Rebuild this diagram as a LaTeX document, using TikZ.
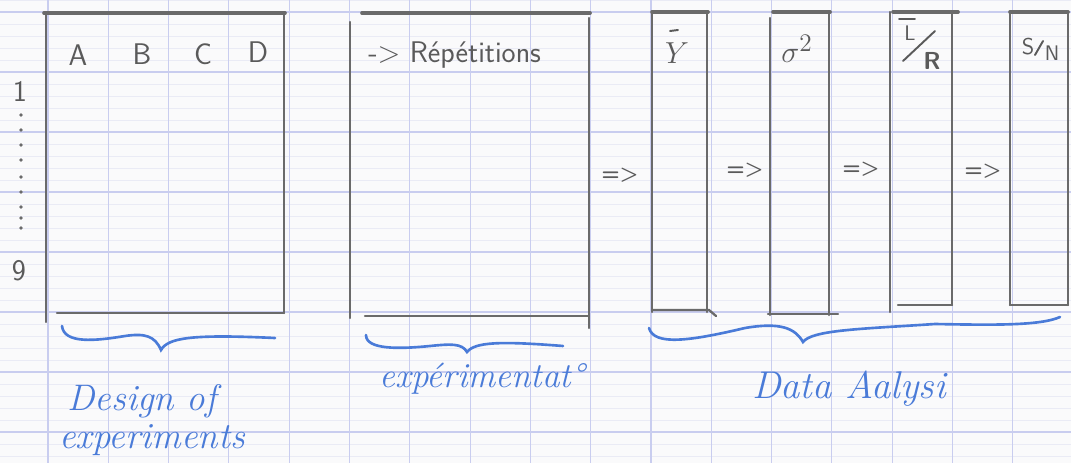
\documentclass[tikz,border=0pt]{standalone}
\definecolor{paper}{HTML}{FAFAFB}
\definecolor{gridmaj}{HTML}{C9CDEF}
\definecolor{gridmin}{HTML}{EAEBF5}
\definecolor{pencil}{HTML}{6A6A6A}
\definecolor{ink}{HTML}{4A7BD8}
\tikzset{
  edge/.style={draw=pencil, line width=1.3pt, line cap=round},
  topedge/.style={draw=pencil, line width=2.1pt, line cap=round},
  stroke/.style={draw=pencil!85!black, line width=1.1pt, line cap=round},
  brace/.style={draw=ink, line width=1.5pt, line cap=round},
  plabel/.style={text=pencil!85!black, font=\sffamily\fontsize{17}{17}\selectfont, inner sep=0pt},
  mlabel/.style={text=pencil!85!black, font=\fontsize{19}{19}\selectfont, inner sep=0pt},
  ilabel/.style={text=ink, font=\itshape\fontsize{21}{23}\selectfont, inner sep=0pt},
  implies/.style={text=pencil!85!black, font=\sffamily\bfseries\fontsize{12}{12}\selectfont, inner sep=0pt},
  dotmark/.style={fill=pencil, draw=none, circle, inner sep=0pt, minimum size=2.2pt}
}
\begin{document}
\begin{tikzpicture}[x=0.02cm,y=-0.02cm]
\fill[paper] (0,0) rectangle (1071,463);
\useasboundingbox (0,0) rectangle (1071,463);
% graph paper
\foreach \y in {0,12,...,456} \draw[gridmin, line width=0.4pt] (0,\y) -- (1071,\y);
\foreach \k in {-1,...,17} \draw[gridmaj, line width=0.6pt] ({48+60.3*\k},0) -- ++(0,463);
\foreach \y in {12,72,...,432} \draw[gridmaj, line width=0.6pt] (0,\y) -- (1071,\y);

% Box 1: design of experiments
\draw[edge] (46,14) -- (46,322);
\draw[topedge] (44,13) -- (285,13);
\draw[edge] (284,13) -- (284,313);
\draw[edge] (57,313) -- (284,313);
\node[plabel] (colA) at (78,55) {A};
\node[plabel] (colB) at (142,54) {B};
\node[plabel] (colC) at (203,54) {C};
\node[plabel] (colD) at (258,52) {D};
\node[plabel] (row1) at (20,91) {1};
\node[plabel] (row9) at (19,271) {9};
\foreach \yy [count=\i] in {115,130,145,160,177,192,207,218,228}
  \node[dotmark] (dot\i) at (21,\yy) {};

% Box 2: experimentation
\draw[edge] (350,22) -- (350,318);
\draw[topedge] (362,13) -- (590,13);
\draw[edge] (589,18) -- (589,328);
\draw[edge] (365,316) -- (588,316);
\node[plabel, anchor=west] (rep) at (368,55) {-{}> Répétitions};

% Data analysis boxes
\draw[edge] (652,12) -- (652,312);
\draw[topedge] (652,12) -- (708,12);
\draw[edge] (707,12) -- (707,312);
\draw[edge] (652,310) -- (709,310) -- (716,316);
\node[mlabel] (ybar) at (677,53) {$Y$};
\draw[stroke] (670,31) -- (678,30);

\draw[edge] (770,18) -- (770,315);
\draw[topedge] (773,12) -- (830,12);
\draw[edge] (829,12) -- (829,315);
\draw[edge] (768,314) -- (838,314);
\node[mlabel] (sig) at (797,49) {$\sigma^{2}$};

\draw[edge] (890,12) -- (890,312);
\draw[topedge] (893,12) -- (958,12);
\draw[edge] (952,12) -- (952,305);
\draw[edge] (898,305) -- (952,305);
\node[plabel, font=\sffamily\fontsize{12}{12}\selectfont] (lnum) at (910,33) {L};
\node[plabel, font=\sffamily\bfseries\fontsize{14}{14}\selectfont] (rden) at (932,61) {R};
\draw[stroke] (899,19) -- (915,19);
\draw[stroke] (903,61) -- (935,31);

\draw[edge] (1010,12) -- (1010,305);
\draw[topedge] (1010,12) -- (1068,12);
\draw[edge] (1068,12) -- (1068,305);
\draw[edge] (1010,305) -- (1068,305);
\node[plabel, font=\sffamily\fontsize{13}{13}\selectfont] (snum) at (1028,47) {S};
\node[plabel, font=\sffamily\fontsize{12}{12}\selectfont] (nden) at (1052,53) {N};
\draw[stroke] (1035,55) -- (1043,41);

% arrows between stages
\node[implies] (imp1) at (620,175) {=>};
\node[implies] (imp2) at (745,170) {=>};
\node[implies] (imp3) at (861,169) {=>};
\node[implies] (imp4) at (983,171) {=>};

% braces
\draw[brace] (62,326) .. controls (64,344) and (95,341) .. (125,336)
  .. controls (145,333) and (155,336) .. (161,350)
  .. controls (168,338) and (190,334) .. (275,338);
\draw[brace] (366,335) .. controls (366,350) and (400,349) .. (430,346)
  .. controls (450,344) and (462,343) .. (467,352)
  .. controls (475,342) and (500,341) .. (563,346);
\draw[brace] (649,328) .. controls (654,346) and (690,341) .. (745,328)
  .. controls (780,322) and (795,328) .. (803,342)
  .. controls (812,330) and (860,329) .. (935,324)
  .. controls (990,325) and (1040,326) .. (1060,317);

% captions
\node[ilabel] (doe1) at (142,401) {Design of};
\node[ilabel] (doe2) at (152,440) {experiments};
\node[ilabel, font=\itshape\fontsize{20}{22}\selectfont] (expe) at (482,379) {expérimentat°};
\node[ilabel, font=\itshape\fontsize{22}{24}\selectfont] (data) at (849,389) {Data Aalysi};
\end{tikzpicture}
\end{document}
